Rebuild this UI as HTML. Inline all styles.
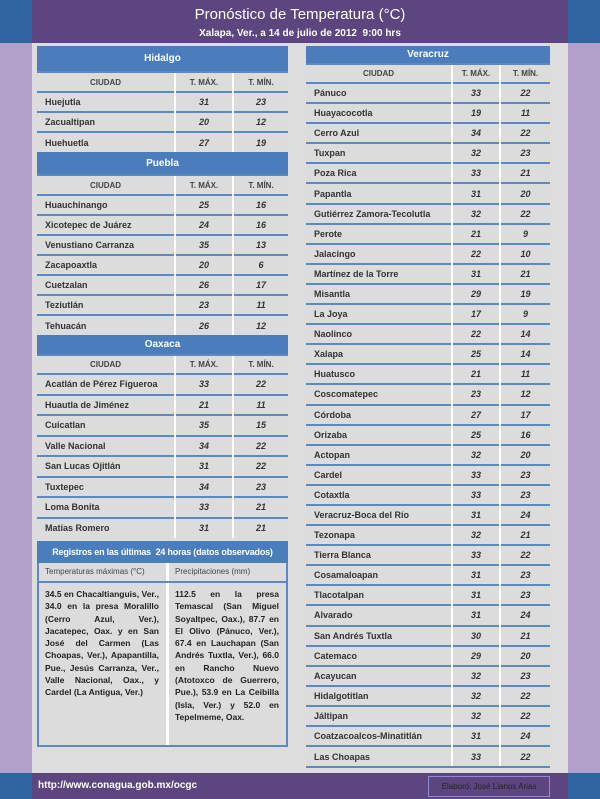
<!DOCTYPE html><html><head><meta charset="utf-8"><style>
*{margin:0;padding:0;box-sizing:border-box}
body{width:600px;height:799px;position:relative;overflow:hidden;background:#ddd;font-family:"Liberation Sans",sans-serif}
.a{position:absolute}
table{position:absolute;border-collapse:collapse;table-layout:fixed}
td{background:#dcdcdc;border-top:2px solid #5b89c4;border-bottom:0;font-size:9px;font-weight:bold;color:#333;padding:0 0 0 8px;white-space:nowrap;overflow:hidden}
td.n{text-align:center;font-style:italic;padding:0;border-left:2px solid #fff}
tr.h td{background:#4b7dbd;color:#fff;text-align:center;font-size:10px;padding:0;border-top:0}
tr.c td{text-align:center;font-size:8px;color:#444;padding:0}
tr.c td+td{border-left:2px solid #fff}
.box{position:absolute;border:2px solid #5b89c4;border-top:0}
</style></head><body>
<div class="a" style="left:0;top:0;width:32px;height:43px;background:#2f65a0"></div>
<div class="a" style="left:0;top:43px;width:32px;height:730px;background:#b29fca"></div>
<div class="a" style="left:0;top:773px;width:32px;height:26px;background:#2f65a0"></div>
<div class="a" style="left:568px;top:0;width:32px;height:43px;background:#2f65a0"></div>
<div class="a" style="left:568px;top:43px;width:32px;height:730px;background:#b29fca"></div>
<div class="a" style="left:568px;top:773px;width:32px;height:26px;background:#2f65a0"></div>
<div class="a" style="left:32px;top:0;width:536px;height:43px;background:#5d4580;color:#fff;text-align:center">
<div style="font-size:15px;padding-top:6px;line-height:17px">Pronóstico de Temperatura (°C)</div>
<div style="font-size:10px;font-weight:bold;margin-top:5px">Xalapa, Ver., a 14 de julio de 2012&nbsp; 9:00 hrs</div></div>
<div class="a" style="left:32px;top:773px;width:536px;height:26px;background:#5d4580"></div>
<div class="a" style="left:38px;top:780px;color:#fff;font-size:10px;font-weight:bold">http://www.conagua.gob.mx/ocgc</div>
<div class="a" style="left:428px;top:776px;width:122px;height:21px;border:1px solid #8a8ad8;color:#222;font-size:8px;text-align:center;line-height:19px">Elaboró: José Llanos Arias</div>

<div class="box" style="left:37px;top:46px;width:251px;height:492px"></div>
<table style="left:37px;top:46px;width:251px">
<col style="width:138px"><col style="width:58px"><col style="width:55px">
<tr class="h" style="height:26px"><td colspan="3">Hidalgo</td></tr>
<tr class="c" style="height:20px"><td>CIUDAD</td><td>T. MÁX.</td><td>T. MÍN.</td></tr>
<tr style="height:20px"><td>Huejutla</td><td class="n">31</td><td class="n">23</td></tr>
<tr style="height:20px"><td>Zacualtipan</td><td class="n">20</td><td class="n">12</td></tr>
<tr style="height:20px"><td>Huehuetla</td><td class="n">27</td><td class="n">19</td></tr>
<tr class="h" style="height:23px"><td colspan="3">Puebla</td></tr>
<tr class="c" style="height:20px"><td>CIUDAD</td><td>T. MÁX.</td><td>T. MÍN.</td></tr>
<tr style="height:20px"><td>Huauchinango</td><td class="n">25</td><td class="n">16</td></tr>
<tr style="height:20px"><td>Xicotepec de Juárez</td><td class="n">24</td><td class="n">16</td></tr>
<tr style="height:20px"><td>Venustiano Carranza</td><td class="n">35</td><td class="n">13</td></tr>
<tr style="height:20px"><td>Zacapoaxtla</td><td class="n">20</td><td class="n">6</td></tr>
<tr style="height:20px"><td>Cuetzalan</td><td class="n">26</td><td class="n">17</td></tr>
<tr style="height:20px"><td>Teziutlán</td><td class="n">23</td><td class="n">11</td></tr>
<tr style="height:20px"><td>Tehuacán</td><td class="n">26</td><td class="n">12</td></tr>
<tr class="h" style="height:20px"><td colspan="3">Oaxaca</td></tr>
<tr class="c" style="height:19px"><td>CIUDAD</td><td>T. MÁX.</td><td>T. MÍN.</td></tr>
<tr style="height:20.5px"><td>Acatlán de Pérez Figueroa</td><td class="n">33</td><td class="n">22</td></tr>
<tr style="height:20.5px"><td>Huautla de Jiménez</td><td class="n">21</td><td class="n">11</td></tr>
<tr style="height:20.5px"><td>Cuicatlan</td><td class="n">35</td><td class="n">15</td></tr>
<tr style="height:20.5px"><td>Valle Nacional</td><td class="n">34</td><td class="n">22</td></tr>
<tr style="height:20.5px"><td>San Lucas Ojitlán</td><td class="n">31</td><td class="n">22</td></tr>
<tr style="height:20.5px"><td>Tuxtepec</td><td class="n">34</td><td class="n">23</td></tr>
<tr style="height:20.5px"><td>Loma Bonita</td><td class="n">33</td><td class="n">21</td></tr>
<tr style="height:20.5px"><td>Matías Romero</td><td class="n">31</td><td class="n">21</td></tr>
</table>

<div class="a" style="left:37px;top:541px;width:251px;height:22px;background:#4b7dbd;color:#fff;font-size:9px;font-weight:bold;text-align:center;line-height:22px;white-space:nowrap;letter-spacing:-0.2px">Registros en las últimas&nbsp; 24 horas (datos observados)</div>
<div class="a" style="left:37px;top:563px;width:251px;height:184px;background:#dcdcdc;border:2px solid #5b89c4;border-top:0"></div>
<div class="a" style="left:166px;top:563px;width:3px;height:182px;background:#fff"></div>
<div class="a" style="left:37px;top:581px;width:251px;height:2px;background:#5b89c4"></div>
<div class="a" style="left:45px;top:567px;font-size:8px;color:#444">Temperaturas máximas (°C)</div>
<div class="a" style="left:175px;top:567px;font-size:8px;color:#444">Precipitaciones (mm)</div>
<div class="a" style="left:45px;top:588px;width:114px;font-size:8.5px;font-weight:bold;line-height:12.3px;text-align:justify;color:#222">34.5 en Chacaltianguis, Ver., 34.0 en la presa Moralillo (Cerro Azul, Ver.), Jacatepec, Oax. y en San José del Carmen (Las Choapas, Ver.), Apapantilla, Pue., Jesús Carranza, Ver., Valle Nacional, Oax., y Cardel (La Antigua, Ver.)</div>
<div class="a" style="left:175px;top:588px;width:104px;font-size:8.5px;font-weight:bold;line-height:12.3px;text-align:justify;color:#222">112.5 en la presa Temascal (San Miguel Soyaltpec, Oax.), 87.7 en El Olivo (Pánuco, Ver.), 67.4 en Lauchapan (San Andrés Tuxtla, Ver.), 66.0 en Rancho Nuevo (Atotoxco de Guerrero, Pue.), 53.9 en La Ceibilla (Isla, Ver.) y 52.0 en Tepelmeme, Oax.</div>

<div class="box" style="left:306px;top:46px;width:244px;height:722px"></div>
<table style="left:306px;top:46px;width:244px">
<col style="width:146px"><col style="width:48px"><col style="width:50px">
<tr class="h" style="height:18px"><td colspan="3">Veracruz</td></tr>
<tr class="c" style="height:19px"><td>CIUDAD</td><td>T. MÁX.</td><td>T. MÍN.</td></tr>
<tr style="height:20.1px"><td>Pánuco</td><td class="n">33</td><td class="n">22</td></tr>
<tr style="height:20.1px"><td>Huayacocotla</td><td class="n">19</td><td class="n">11</td></tr>
<tr style="height:20.1px"><td>Cerro Azul</td><td class="n">34</td><td class="n">22</td></tr>
<tr style="height:20.1px"><td>Tuxpan</td><td class="n">32</td><td class="n">23</td></tr>
<tr style="height:20.1px"><td>Poza Rica</td><td class="n">33</td><td class="n">21</td></tr>
<tr style="height:20.1px"><td>Papantla</td><td class="n">31</td><td class="n">20</td></tr>
<tr style="height:20.1px"><td>Gutiérrez Zamora-Tecolutla</td><td class="n">32</td><td class="n">22</td></tr>
<tr style="height:20.1px"><td>Perote</td><td class="n">21</td><td class="n">9</td></tr>
<tr style="height:20.1px"><td>Jalacingo</td><td class="n">22</td><td class="n">10</td></tr>
<tr style="height:20.1px"><td>Martínez de la Torre</td><td class="n">31</td><td class="n">21</td></tr>
<tr style="height:20.1px"><td>Misantla</td><td class="n">29</td><td class="n">19</td></tr>
<tr style="height:20.1px"><td>La Joya</td><td class="n">17</td><td class="n">9</td></tr>
<tr style="height:20.1px"><td>Naolinco</td><td class="n">22</td><td class="n">14</td></tr>
<tr style="height:20.1px"><td>Xalapa</td><td class="n">25</td><td class="n">14</td></tr>
<tr style="height:20.1px"><td>Huatusco</td><td class="n">21</td><td class="n">11</td></tr>
<tr style="height:20.1px"><td>Coscomatepec</td><td class="n">23</td><td class="n">12</td></tr>
<tr style="height:20.1px"><td>Córdoba</td><td class="n">27</td><td class="n">17</td></tr>
<tr style="height:20.1px"><td>Orizaba</td><td class="n">25</td><td class="n">16</td></tr>
<tr style="height:20.1px"><td>Actopan</td><td class="n">32</td><td class="n">20</td></tr>
<tr style="height:20.1px"><td>Cardel</td><td class="n">33</td><td class="n">23</td></tr>
<tr style="height:20.1px"><td>Cotaxtla</td><td class="n">33</td><td class="n">23</td></tr>
<tr style="height:20.1px"><td>Veracruz-Boca del Río</td><td class="n">31</td><td class="n">24</td></tr>
<tr style="height:20.1px"><td>Tezonapa</td><td class="n">32</td><td class="n">21</td></tr>
<tr style="height:20.1px"><td>Tierra Blanca</td><td class="n">33</td><td class="n">22</td></tr>
<tr style="height:20.1px"><td>Cosamaloapan</td><td class="n">31</td><td class="n">23</td></tr>
<tr style="height:20.1px"><td>Tlacotalpan</td><td class="n">31</td><td class="n">23</td></tr>
<tr style="height:20.1px"><td>Alvarado</td><td class="n">31</td><td class="n">24</td></tr>
<tr style="height:20.1px"><td>San Andrés Tuxtla</td><td class="n">30</td><td class="n">21</td></tr>
<tr style="height:20.1px"><td>Catemaco</td><td class="n">29</td><td class="n">20</td></tr>
<tr style="height:20.1px"><td>Acayucan</td><td class="n">32</td><td class="n">23</td></tr>
<tr style="height:20.1px"><td>Hidalgotitlan</td><td class="n">32</td><td class="n">22</td></tr>
<tr style="height:20.1px"><td>Jáltipan</td><td class="n">32</td><td class="n">22</td></tr>
<tr style="height:20.1px"><td>Coatzacoalcos-Minatitlán</td><td class="n">31</td><td class="n">24</td></tr>
<tr style="height:20.1px"><td>Las Choapas</td><td class="n">33</td><td class="n">22</td></tr>
</table>
</body></html>
